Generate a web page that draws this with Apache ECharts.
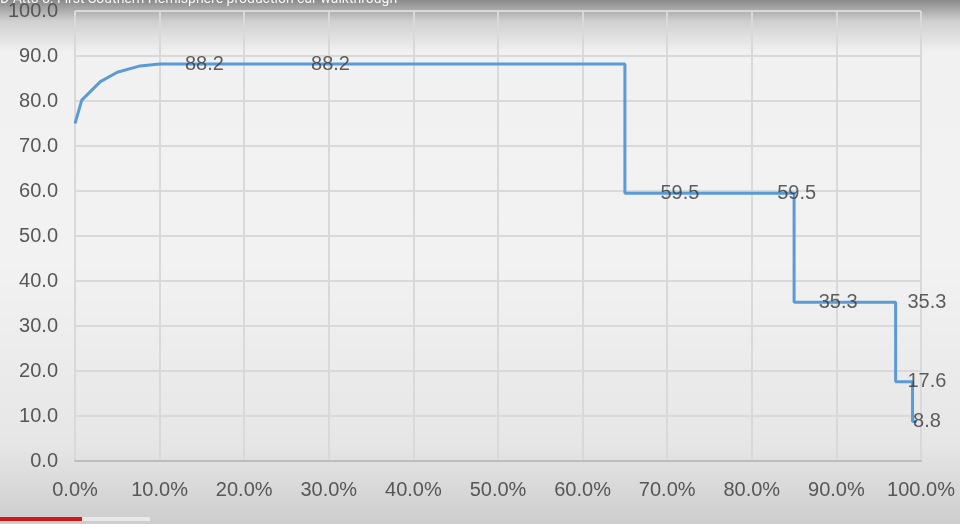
<!DOCTYPE html>
<html>
<head>
<meta charset="utf-8">
<script src="https://cdn.jsdelivr.net/npm/echarts@6/dist/echarts.min.js"></script>
<style>
html,body{margin:0;padding:0;background:#e9e9e9;}
#chart{width:960px;height:524px;}
</style>
</head>
<body>
<div id="chart"></div>
<script>
// Data
var videoTitle = 'D Atto 3: First Southern Hemisphere production car walkthrough';
var xPercent = [0, 0.8, 3, 5, 7.7, 10, 65, 65, 85, 85, 97, 97, 99, 99, 99.5];
var yValues  = [75, 80.2, 84.3, 86.4, 87.8, 88.2, 88.2, 59.5, 59.5, 35.3, 35.3, 17.6, 17.6, 8.8, 8.8];
var labelX      = [15.3, 30.2, 71.5, 85.3, 90.2, 100.7, 100.7, 100.7];
var labelValues = [88.2, 88.2, 59.5, 59.5, 35.3, 35.3, 17.6, 8.8];

var lineData = xPercent.map(function (x, i) { return [x, yValues[i]]; });
var labelData = labelX.map(function (x, i) { return [x, labelValues[i]]; });

var chart = echarts.init(document.getElementById('chart'));
var font = 'Liberation Sans, Arial, sans-serif';
chart.setOption({
  animation: false,
  backgroundColor: {
    type: 'linear', x: 0, y: 0, x2: 0, y2: 1,
    colorStops: [
      {offset: 0, color: '#8a8a8a'},
      {offset: 0.04, color: '#cfcfcf'},
      {offset: 0.1, color: '#f1f1f1'},
      {offset: 0.5, color: '#f2f2f2'},
      {offset: 0.85, color: '#e6e6e6'},
      {offset: 1, color: '#cdcdcd'}
    ]
  },
  graphic: [
    {type: 'text', left: 0, top: -8, z: 100,
     style: {text: videoTitle, fill: 'rgba(255,255,255,0.92)', font: '14px Roboto, sans-serif'}},
    {type: 'rect', left: 0, top: 517, z: 100, shape: {width: 150, height: 4}, style: {fill: '#e8e8e8'}},
    {type: 'rect', left: 0, top: 517, z: 101, shape: {width: 82, height: 4}, style: {fill: '#d01818'}}
  ],
  grid: {left: 75, right: 39, top: 11, bottom: 63, containLabel: false},
  xAxis: {
    type: 'value', min: 0, max: 100, interval: 10,
    axisLine: {show: true, lineStyle: {color: '#bdbdbd', width: 2}},
    axisTick: {show: false},
    splitLine: {show: true, lineStyle: {color: '#d9d9d9', width: 2}},
    axisLabel: {color: '#575757', fontSize: 20, fontFamily: font, margin: 19,
      formatter: function (v) { return v.toFixed(1) + '%'; }}
  },
  yAxis: {
    type: 'value', min: 0, max: 100, interval: 10,
    axisLine: {show: false},
    axisTick: {show: false},
    splitLine: {show: true, lineStyle: {color: '#d9d9d9', width: 2}},
    axisLabel: {color: '#575757', fontSize: 20, fontFamily: font, margin: 17,
      formatter: function (v) { return v.toFixed(1); }}
  },
  series: [
    {
      type: 'line', data: lineData, symbol: 'none', smooth: false,
      lineStyle: {color: '#5b9bd5', width: 3},
      z: 3
    },
    {
      type: 'scatter', data: labelData, symbolSize: 0, clip: false, silent: true,
      label: {show: true, position: 'inside', color: '#383838', fontSize: 20, fontFamily: font,
        formatter: function (p) { return p.value[1].toFixed(1); }},
      z: 4
    }
  ]
});
</script>
</body>
</html>
